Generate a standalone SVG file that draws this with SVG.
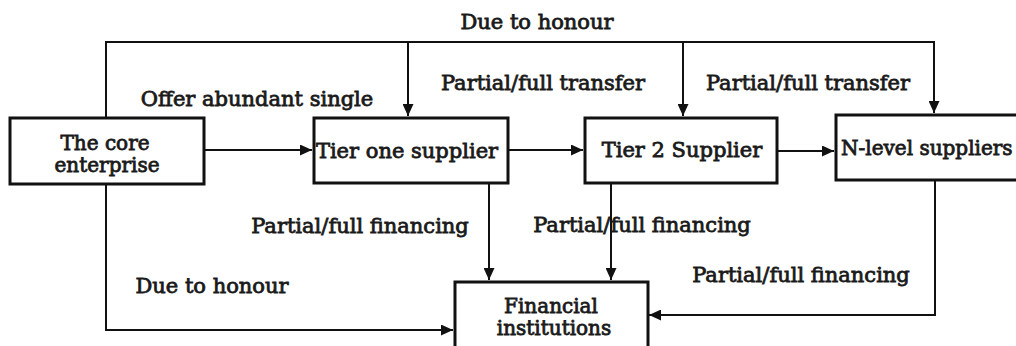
<svg xmlns="http://www.w3.org/2000/svg" width="1016" height="346" viewBox="0 0 1016 346">
<style>
.box{fill:#fff;stroke:#111;stroke-width:3}
.ln{fill:none;stroke:#111;stroke-width:2}
text{font-family:"DejaVu Serif","Liberation Serif",serif;font-size:21px;fill:#1a1a1a;stroke:#1a1a1a;stroke-width:0.8}
.c{text-anchor:middle}
.s20{font-size:20px}
</style>
<defs>
<marker id="ah" viewBox="0 0 12 11" refX="12" refY="5.5" markerWidth="12" markerHeight="11" markerUnits="userSpaceOnUse" orient="auto">
<path d="M0,0 L12,5.5 L0,11 Z" fill="#111"/>
</marker>
</defs>
<rect width="1016" height="346" fill="#fff"/>
<g id="connectors">
<polyline class="ln" points="106,117 106,42 934,42"/>
<line class="ln" x1="408" y1="42" x2="408" y2="116" marker-end="url(#ah)"/>
<line class="ln" x1="683" y1="42" x2="683" y2="116" marker-end="url(#ah)"/>
<line class="ln" x1="934" y1="41" x2="934" y2="113" marker-end="url(#ah)"/>
<line class="ln" x1="204" y1="150" x2="312" y2="150" marker-end="url(#ah)"/>
<line class="ln" x1="508" y1="150" x2="583" y2="150" marker-end="url(#ah)"/>
<line class="ln" x1="777" y1="151" x2="834" y2="151" marker-end="url(#ah)"/>
<polyline class="ln" points="106,184 106,330 453,330" marker-end="url(#ah)"/>
<line class="ln" x1="489" y1="183" x2="489" y2="280" marker-end="url(#ah)"/>
<line class="ln" x1="611" y1="183" x2="611" y2="280" marker-end="url(#ah)"/>
<polyline class="ln" points="935,180 935,315 649,315" marker-end="url(#ah)"/>
<text class="c" x="537" y="29">Due to honour</text>
<text class="c" x="257" y="106">Offer abundant single</text>
<text class="c" x="543" y="90">Partial/full transfer</text>
<text class="c" x="808" y="90">Partial/full transfer</text>
<text class="c" x="360" y="233">Partial/full financing</text>
<text class="c" x="642" y="232">Partial/full financing</text>
<text class="c" x="801" y="282">Partial/full financing</text>
<text class="c" x="212" y="293">Due to honour</text>
</g>
<g id="core">
<rect class="box" x="10" y="118" width="194" height="66"/>
<text class="c s20" x="105" y="150">The core</text>
<text class="c s20" x="107" y="172">enterprise</text>
</g>
<g id="tier1">
<rect class="box" x="314" y="118" width="194" height="65"/>
<text class="c" x="407" y="158">Tier one supplier</text>
</g>
<g id="tier2">
<rect class="box" x="585" y="118" width="192" height="65"/>
<text class="c" x="682" y="157">Tier 2 Supplier</text>
</g>
<g id="nlevel">
<rect class="box" x="836" y="115" width="200" height="65"/>
<text class="s20" x="841" y="155">N-level suppliers</text>
</g>
<g id="financial">
<rect class="box" x="455" y="282" width="193" height="80"/>
<text class="c s20" x="551" y="313">Financial</text>
<text class="c s20" x="554" y="335">institutions</text>
</g>
</svg>
